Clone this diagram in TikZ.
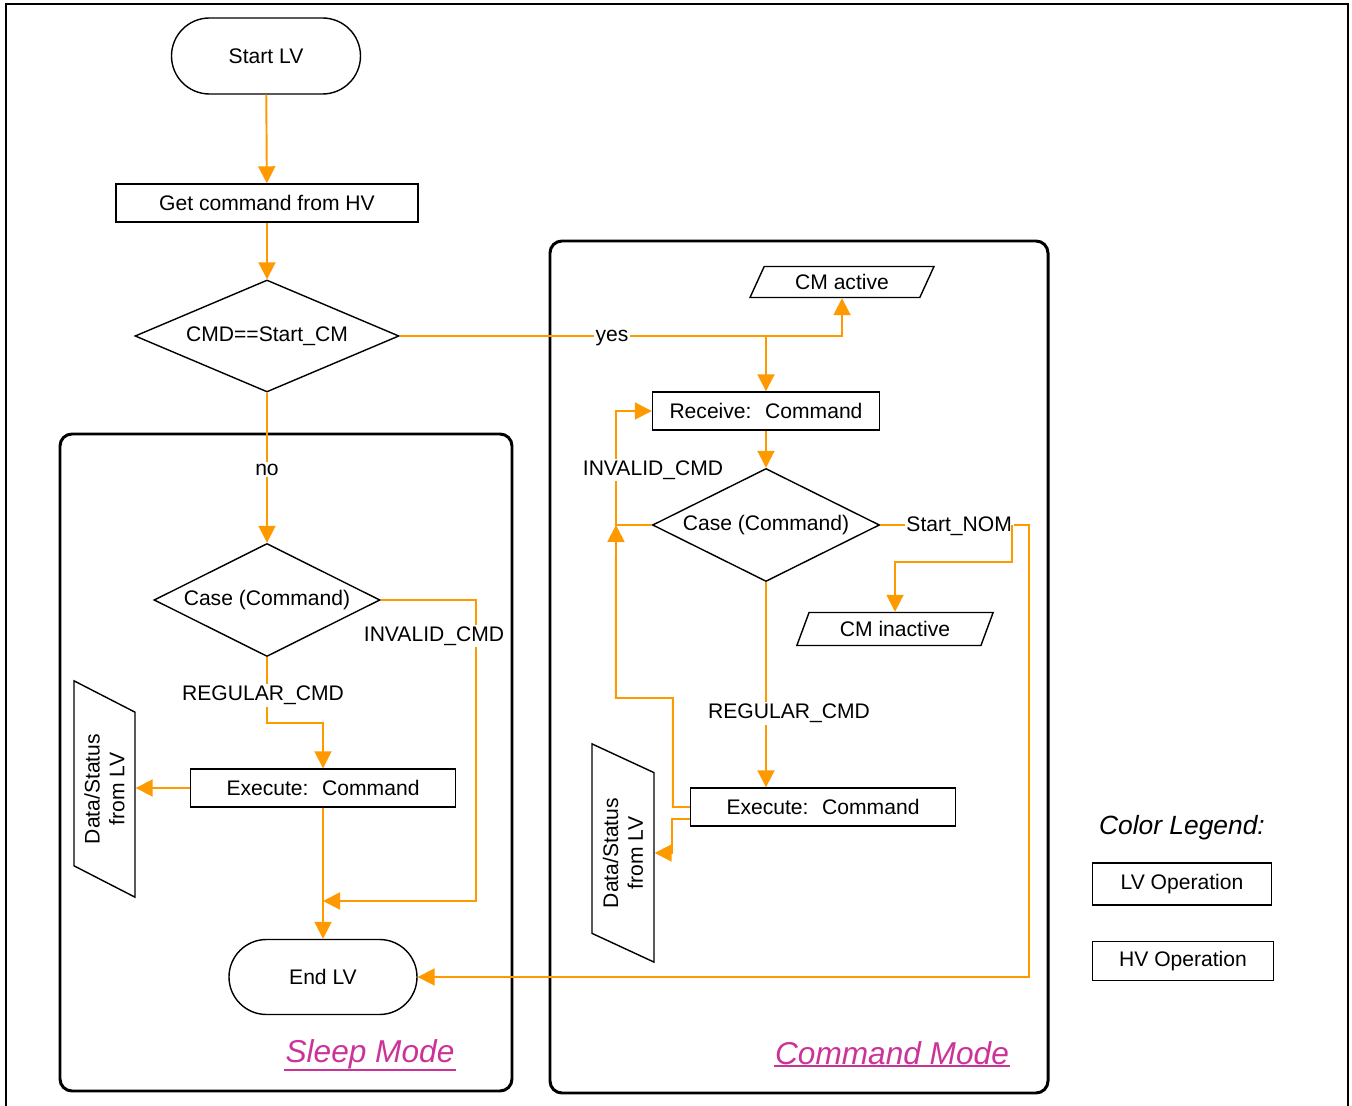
\documentclass[tikz,border=0pt]{standalone}
\usepackage{fontspec}
\setmainfont{Liberation Sans}
\usetikzlibrary{arrows.meta,shapes.geometric}
\definecolor{lvorange}{RGB}{255,153,0}
\definecolor{modepink}{RGB}{204,51,153}

\begin{document}
\begin{tikzpicture}[x=0.2mm,y=-0.2mm,
  font=\fontsize{12}{14}\selectfont,
  flow/.style={draw=lvorange, line width=1.1pt, -{Triangle[length=3.4mm,width=3.4mm]}},
  box/.style={draw, line width=0.8pt, minimum height=7.6mm, inner sep=1pt},
  term/.style={draw, line width=0.8pt, minimum width=37.8mm, minimum height=15.2mm, rounded corners=7.6mm},
  decision/.style={draw, diamond, line width=0.8pt, inner sep=0.5pt, aspect=2},
  io/.style={draw, trapezium, trapezium left angle=65, trapezium right angle=115,
    trapezium stretches=true, line width=0.8pt, inner sep=1pt},
  lbl/.style={fill=white, inner sep=1pt},
  mode/.style={draw, line width=1.7pt, rounded corners=2.4mm},
  modename/.style={font=\fontsize{18}{20}\selectfont\itshape, text=modepink, inner sep=0.6pt}]

\useasboundingbox (0,0) rectangle (1352,1106);
\draw[line width=1pt] (6,1106) -- (6,4) -- (1348,4) -- (1348,1106);

% the two modes
\draw[mode] (60,434) rectangle (512,1091);
\draw[mode] (550,241) rectangle (1048,1093);
\node[modename] (sleep) at (370,1054) {Sleep Mode};
\node[modename] (cmode) at (892,1053) {Command Mode};
\draw[modepink, line width=1.1pt] (sleep.south west) -- (sleep.south east);
\draw[modepink, line width=1.1pt] (cmode.south west) -- (cmode.south east);

% sleep mode side
\node[term] (start) at (266,56) {Start LV};
\node[box, minimum width=60.4mm] (getcmd) at (267,203) {Get command from HV};
\node[decision, minimum width=52.8mm, minimum height=22.4mm, aspect=2.35] (cmdq) at (267,336) {CMD==Start\_CM};
\node[decision, minimum width=45.2mm, minimum height=22.6mm] (caseL) at (267,600) {Case (Command)};
\node[box, minimum width=53mm] (exL) at (323,788) {Execute:~ Command};
\node[term, minimum width=37.6mm, minimum height=15mm, rounded corners=7.5mm] (endlv) at (323,977) {End LV};
\node[io, rotate=90, minimum width=43.6mm, minimum height=12.2mm, align=center,
  trapezium left angle=62, trapezium right angle=118] (dsL) at (104.5,789) {Data/Status\\from LV};
\coordinate (jL) at (323,901);

% command mode side
\node[io, minimum width=37mm, minimum height=6.2mm] (cmact) at (842,282) {CM active};
\node[box, minimum width=45.4mm] (recv) at (766,411) {Receive:~ Command};
\node[decision, minimum width=45.4mm, minimum height=22.6mm] (caseR) at (766,525) {Case (Command)};
\node[io, minimum width=39.4mm, minimum height=6.6mm, trapezium left angle=67, trapezium right angle=113] (cminact) at (895,629) {CM inactive};
\node[box, minimum width=53mm] (exR) at (823,807) {Execute:~ Command};
\node[io, rotate=90, minimum width=44mm, minimum height=12.4mm, align=center] (dsR) at (623,853) {Data/Status\\from LV};
\coordinate (jR) at (616,525);

% legend
\node[font=\fontsize{15}{18}\selectfont\itshape] (legend) at (1182,828) {Color Legend:};
\node[box, minimum width=35.8mm, minimum height=8.4mm] (lvop) at (1182,884) {LV Operation};
\node[box, minimum width=36.2mm, minimum height=7.8mm] (hvop) at (1183,961) {HV Operation};

% connectors
\draw[flow] (start) -- (getcmd);
\draw[flow] (getcmd) -- (cmdq);
\draw[flow] (cmdq) -- node[lbl, yshift=-0.4mm] {no} (caseL);
\draw[flow] (cmdq.east) -| node[lbl, pos=0.24, yshift=-0.4mm] {yes} (cmact.south);
\draw[flow] (cmdq.east -| recv.north) -- (recv.north);
\draw[flow] (recv) -- (caseR);
\draw[flow] (caseR.west) -- (jR) |- (recv.west);
\node[lbl] (invR) at (653,470) {INVALID\_CMD};
\draw[flow] (caseR.east) -- node[lbl, pos=0.53, yshift=-0.3mm] {Start\_NOM} ++(149,0) |- (endlv.east);
\draw[flow] ([xshift=26.4mm]caseR.east) -- ++(0,37) -| (cminact.north);
\draw[flow] (caseR.south) -- node[lbl, pos=0.64, xshift=4.6mm] {REGULAR\_CMD} (caseR.south |- exR.north);
\draw[flow] (exR.west) -- ++(-17,0) |- ++(-57,-109) -- (jR);
\draw[flow] ([yshift=-2.4mm]exR.west) -- ++(-18,0) |- (dsR.south);

\draw[flow] (caseL.south) -- node[lbl, pos=0.58, xshift=-0.8mm] {REGULAR\_CMD} ++(0,66) -| (exL.north);
\draw[flow] (caseL.east) -- ++(95,0) |- (jL);
\node[lbl] (invL) at (434,636) {INVALID\_CMD};
\draw[flow] (exL.west) -- (exL.west -| dsL.south);
\draw[flow] (exL) -- (endlv);
\end{tikzpicture}
\end{document}
